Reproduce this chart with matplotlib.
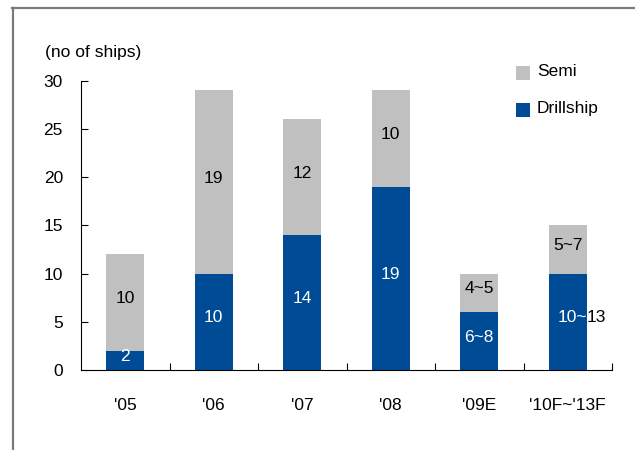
import matplotlib
matplotlib.use("Agg")
import matplotlib.pyplot as plt
from matplotlib.patches import Rectangle
from matplotlib.lines import Line2D

plt.rcParams['font.family'] = ['Liberation Sans', 'DejaVu Sans']

categories = ["'05", "'06", "'07", "'08", "'09E", "'10F~'13F"]
drillship = [2, 10, 14, 19, 6, 10]
semi = [10, 19, 12, 10, 4, 5]
drillship_labels = ["2", "10", "14", "19", "6~8", "10~13"]
semi_labels = ["10", "19", "12", "10", "4~5", "5~7"]
yticks = [0, 5, 10, 15, 20, 25, 30]

BLUE = "#004B96"
GRAY = "#C0C0C0"
FS = 12.5

W, H = 635, 450
fig = plt.figure(figsize=(W / 100, H / 100), dpi=100)
ax = fig.add_axes([81 / W, 1 - 370 / H, (612 - 81) / W, (370 - 80.7) / H])

x = list(range(len(categories)))
bw = 0.43
ax.bar(x, drillship, width=bw, color=BLUE, linewidth=0)
ax.bar(x, semi, width=bw, bottom=drillship, color=GRAY, linewidth=0)

for i in x:
    d, s = drillship[i], semi[i]
    yd = d / 2 + 0.4
    ys = d + s / 2 + 0.4
    lbl = drillship_labels[i]
    if len(lbl) > 3:
        # wide label runs past the bar edge: inside part white, outside part dark
        head, tail = lbl[:3], lbl[3:]
        edge = i + bw / 2
        ax.text(edge, yd, head, ha='right', va='center', fontsize=FS, color='white')
        ax.text(edge, yd, tail, ha='left', va='center', fontsize=FS, color='black')
    else:
        ax.text(i, yd, lbl, ha='center', va='center', fontsize=FS, color='white')
    ax.text(i, ys, semi_labels[i], ha='center', va='center', fontsize=FS, color='black')

ax.set_xlim(-0.5, len(categories) - 0.5)
ax.set_ylim(0, 30)
ax.set_yticks(yticks)
ax.set_xticks(x)
ax.set_xticklabels(categories)
ax.set_xticks([i + 0.5 for i in x], minor=True)

for sp in ('top', 'right'):
    ax.spines[sp].set_visible(False)
for sp in ('left', 'bottom'):
    ax.spines[sp].set_color('black')
    ax.spines[sp].set_linewidth(0.8)

ax.tick_params(axis='x', which='major', length=0, pad=20, labelsize=FS)
ax.tick_params(axis='x', which='minor', direction='in', length=5, width=0.8)
ax.tick_params(axis='y', direction='in', length=5, width=0.8, pad=13, labelsize=FS)

fig.text(45 / W, 1 - 52 / H, "(no of ships)", fontsize=FS, ha='left', va='center')

# legend
for (label, color, ytop) in (("Semi", GRAY, 66), ("Drillship", BLUE, 103)):
    fig.patches.append(Rectangle((516 / W, 1 - (ytop + 14) / H), 14 / W, 14 / H,
                                 transform=fig.transFigure, facecolor=color,
                                 edgecolor='none'))
    fig.text(537 / W, 1 - (ytop + 6) / H, label, fontsize=FS, ha='left', va='center')

# outer frame (left and top)
fig.lines.append(Line2D([13 / W, 13 / W], [0, 1 - 8.3 / H], transform=fig.transFigure,
                        color='#7a7a7a', linewidth=1.6))
fig.lines.append(Line2D([12 / W, 1], [1 - 8.3 / H, 1 - 8.3 / H], transform=fig.transFigure,
                        color='#7a7a7a', linewidth=1.6))

fig.savefig("out.png", dpi=100)
